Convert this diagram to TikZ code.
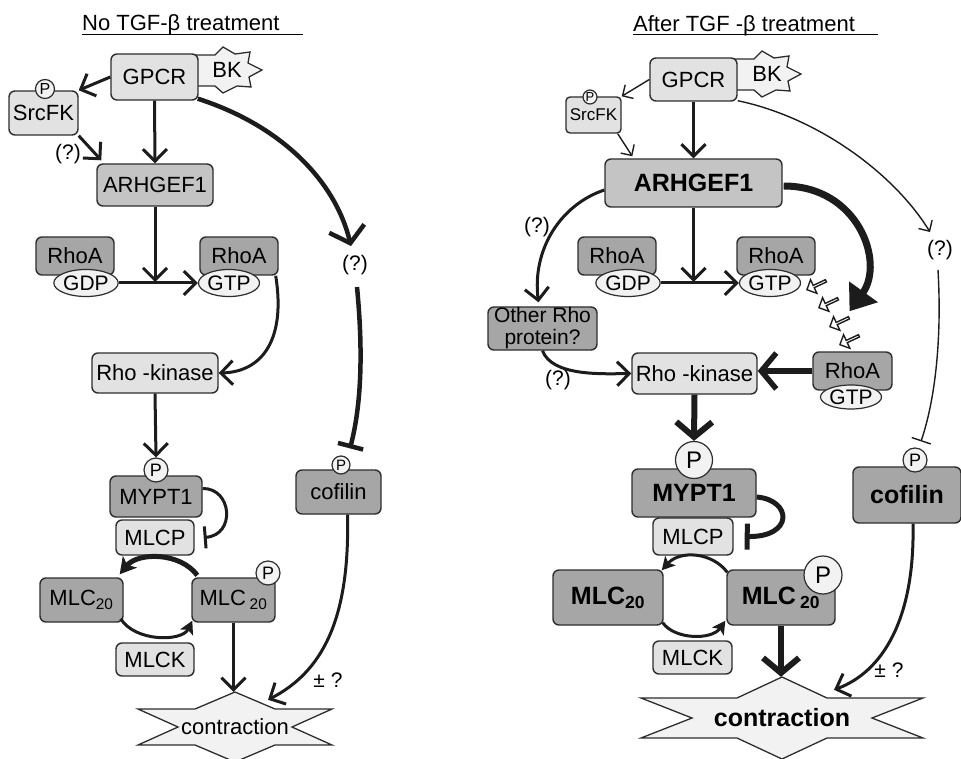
\documentclass[tikz,border=0pt]{standalone}
\usepackage{fontspec}
\setmainfont{Liberation Sans}
\usepackage{tikz}
\usetikzlibrary{positioning,arrows.meta,shapes.geometric,shapes.arrows,calc}
\definecolor{BoxLight}{RGB}{226,226,226}
\definecolor{BoxMid}{RGB}{196,196,196}
\definecolor{BoxDark}{RGB}{166,166,166}
\definecolor{TagFill}{RGB}{242,242,242}
\definecolor{LineDark}{RGB}{28,28,28}
\definecolor{BoxBorder}{RGB}{45,45,45}
\tikzset{
  % Protein boxes
  pbox/.style={rectangle, rounded corners=6pt, draw=BoxBorder, line width=1.4pt,
    inner sep=0pt, font=\fontsize{22}{24}\selectfont},
  lbox/.style={pbox, fill=BoxLight},
  mbox/.style={pbox, fill=BoxMid},
  dbox/.style={pbox, fill=BoxDark},
  % Bold boxes (after treatment)
  bbox/.style={dbox, font=\fontsize{25}{27}\selectfont\bfseries},
  % GDP / GTP tags
  nuc/.style={ellipse, draw=BoxBorder, fill=TagFill, line width=1.2pt,
    minimum width=56pt, minimum height=27pt, inner sep=0pt,
    font=\fontsize{21}{22}\selectfont},
  % Phosphate tags
  phos/.style={circle, draw=BoxBorder, fill=TagFill, line width=1.2pt, inner sep=0pt},
  % Burst outlines (BK, contraction)
  burst/.style={draw=BoxBorder, fill=TagFill, line width=1.3pt, line join=miter},
  % Plain labels
  lbl/.style={inner sep=0pt, font=\fontsize{21}{22}\selectfont},
  ttl/.style={inner sep=0pt, font=\fontsize{22}{24}\selectfont},
  % Connectors
  act/.style={draw=LineDark, line width=3pt, -{Straight Barb[length=12pt,width=24pt]}},
  tact/.style={draw=LineDark, line width=1.4pt, -{Straight Barb[length=8pt,width=16pt]}},
  hact/.style={draw=LineDark, line width=5.5pt, -{Straight Barb[length=15pt,width=36pt]}},
  bigact/.style={draw=LineDark, line width=7pt, -{Triangle[length=24pt,width=34pt]}},
  cyc/.style={draw=LineDark, line width=3pt, -{Stealth[length=13pt,width=14pt,inset=3pt]}},
  hcyc/.style={draw=LineDark, line width=5pt, -{Stealth[length=16pt,width=18pt,inset=4pt]}},
  inh/.style={draw=LineDark, line width=3pt, -{Bar[width=22pt]}},
  hinh/.style={draw=LineDark, line width=4.5pt, -{Bar[width=26pt]}},
  tinh/.style={draw=LineDark, line width=1.4pt, -{Bar[width=20pt]}},
  % Small hollow arrows (RhoA-GTP moving)
  hollow/.style={single arrow, draw=LineDark, fill=white, line width=1.4pt,
    minimum height=21pt, minimum width=15pt, single arrow head extend=3.5pt,
    inner sep=0pt, rotate=205}
}
\begin{document}
\begin{tikzpicture}[x=1pt, y=-1pt]
  \useasboundingbox (0,0) rectangle (961,759);

  % ===== No TGF-beta treatment =====
  \node[ttl, anchor=base west] (ttlA) at (82,31) {No TGF-β treatment};
  \draw[line width=1.2pt] ($(ttlA.base west)+(0,3.5)$) -- ++(221,0);

  % BK burst
  \coordinate (bkA) at (229,69);
  \draw[burst, shift={(bkA)}] (-34,-14) -- (-14,-14) -- (-6,-22) -- (6,-15) -- (21,-17)
    -- (19,-6) -- (33,1) -- (20,8) -- (22,18) -- (8,17) -- (-6,24) -- (-14,17)
    -- (-34,17) -- cycle;
  \node[ttl] (bkTxtA) at ($(bkA)+(-2,1)$) {BK};

  \node[lbox, minimum width=87pt, minimum height=46pt] (gpcrA) at (154.5,77) {GPCR};
  \node[lbox, minimum width=69pt, minimum height=44pt] (srcA) at (43.5,113) {SrcFK};
  \node[phos, minimum size=19pt, font=\fontsize{16}{16}\selectfont] (pSrcA) at (45,89) {P};
  \node[mbox, minimum width=116pt, minimum height=42pt] (arhA) at (155,185) {ARHGEF1};
  \node[dbox, minimum width=78pt, minimum height=38pt] (rhoA1) at (75,256) {RhoA};
  \node[nuc] (gdpA) at (86,283) {GDP};
  \node[dbox, minimum width=78pt, minimum height=38pt] (rhoA2) at (239,256) {RhoA};
  \node[nuc] (gtpA) at (229,283) {GTP};
  \node[lbox, minimum width=126pt, minimum height=40pt] (rockA) at (155,373) {Rho -kinase};
  \node[dbox, minimum width=92pt, minimum height=41pt] (myptA) at (156,496.5) {MYPT1};
  \node[phos, minimum size=24pt, font=\fontsize{18}{18}\selectfont] (pMyptA) at (156,470) {P};
  \node[lbox, minimum width=78pt, minimum height=35pt] (mlcpA) at (155,537.5) {MLCP};
  \node[dbox, minimum width=83pt, minimum height=44pt] (mlcA1) at (81.5,600) {MLC\textsubscript{20}};
  \node[dbox, minimum width=83pt, minimum height=44pt] (mlcA2) at (233.5,600) {MLC\,\textsubscript{20}};
  \node[phos, minimum size=24pt, font=\fontsize{18}{18}\selectfont] (pMlcA) at (268,573) {P};
  \node[lbox, minimum width=78pt, minimum height=33pt] (mlckA) at (155,659.5) {MLCK};
  \node[dbox, minimum width=85pt, minimum height=44pt] (cofA) at (338.5,492) {cofilin};
  \node[phos, minimum size=18pt, font=\fontsize{15}{15}\selectfont] (pCofA) at (341,465) {P};

  % contraction burst
  \coordinate (conA) at (235,727);
  \draw[burst, shift={(conA)}] (0,-35) -- (40,-18) -- (97,-18) -- (57,0) -- (97,18)
    -- (40,18) -- (0,35) -- (-40,18) -- (-97,18) -- (-57,0) -- (-97,-18) -- (-40,-18) -- cycle;
  \node[ttl, minimum height=70pt] (contrA) at (conA) {contraction};

  \node[lbl] (qSrcA) at (68,154) {(?)};
  \node[lbl] (qCofA) at (355,265) {(?)};
  \node[lbl] (pmA) at (328,680) {± ?};

  \draw[act] (gpcrA.west) -- (srcA.north east);
  \draw[act] (srcA.south east) -- ($(arhA.north west)+(5,-3)$);
  \draw[act] (gpcrA.south) -- (arhA.north);
  \draw[hact, line width=4.5pt] ($(gpcrA.south east)+(-1,-2)$) .. controls (280,125) and (335,180)
    .. ($(qCofA.north)+(-4,-9)$);
  \draw[hinh] ($(qCofA.south)+(2,12)$) .. controls (364,360) and (360,410) .. ($(pCofA.north)+(9,-7)$);
  \draw[act, shorten >=1pt] (arhA.south) -- (arhA.south |- gdpA.center);
  \draw[act] (gdpA.east) -- (gtpA.west);
  \draw[act] ($(rhoA2.south east)+(-3,0)$) .. controls (286,340) and (262,372) .. (rockA.east);
  \draw[act] (rockA.south) -- (pMyptA.north);
  \draw[inh] ($(myptA.east)+(0,-8)$) .. controls (232,488) and (236,535) .. ($(mlcpA.east)+(9,0)$);
  \draw[hcyc] ($(mlcA2.north west)+(6,-2)$) .. controls (180,552) and (138,552) .. ($(mlcA1.north east)+(-4,-3)$);
  \draw[cyc] ($(mlcA1.south east)+(-3,-4)$) .. controls (135,642) and (182,642) .. ($(mlcA2.south west)+(1,-2)$);
  \draw[act] (mlcA2.south) -- (mlcA2.south |- contrA.north);
  \draw[act] ($(cofA.south)+(9,0)$) .. controls (350,620) and (322,672) .. ($(contrA.north)+(33,8)$);

  % ===== After TGF-beta treatment =====
  \node[ttl, anchor=base west] (ttlB) at (633,31.5) {After TGF -β treatment};
  \draw[line width=1.2pt] ($(ttlB.base west)+(0,3)$) -- ++(245,0);

  \coordinate (bkB) at (768,73);
  \draw[burst, shift={(bkB)}] (-34,-14) -- (-14,-14) -- (-6,-22) -- (6,-15) -- (21,-17)
    -- (19,-6) -- (33,1) -- (20,8) -- (22,18) -- (8,17) -- (-6,24) -- (-14,17)
    -- (-34,17) -- cycle;
  \node[ttl] (bkTxtB) at ($(bkB)+(-1,1)$) {BK};

  \node[lbox, minimum width=87pt, minimum height=43pt] (gpcrB) at (693.5,79.5) {GPCR};
  \node[lbox, rounded corners=4pt, minimum width=55pt, minimum height=36pt,
    font=\fontsize{17}{18}\selectfont] (srcB) at (593.5,115) {SrcFK};
  \node[phos, minimum size=14pt, font=\fontsize{13}{13}\selectfont] (pSrcB) at (590,97) {P};
  \node[mbox, minimum width=177pt, minimum height=48pt,
    font=\fontsize{25}{27}\selectfont\bfseries] (arhB) at (693.5,183) {ARHGEF1};
  \node[dbox, minimum width=78pt, minimum height=38pt] (rhoB1) at (617,256) {RhoA};
  \node[nuc] (gdpB) at (628,283) {GDP};
  \node[dbox, minimum width=78pt, minimum height=38pt] (rhoB2) at (776,256) {RhoA};
  \node[nuc] (gtpB) at (770,283) {GTP};
  \node[dbox, minimum width=109pt, minimum height=43pt, align=center,
    font=\fontsize{21}{22}\selectfont] (otherB) at (542.5,328.5) {Other Rho\\protein?};
  \node[lbox, minimum width=125pt, minimum height=41pt] (rockB) at (694.5,373.5) {Rho -kinase};
  \node[dbox, minimum width=79pt, minimum height=38pt] (rhoB3) at (852.5,371) {RhoA};
  \node[nuc, minimum width=57pt, minimum height=24pt] (gtpB3) at (851,397) {GTP};
  \node[bbox, minimum width=124pt, minimum height=48pt] (myptB) at (694,493) {MYPT1};
  \node[phos, minimum size=37pt, font=\fontsize{24}{24}\selectfont] (pMyptB) at (694,460) {P};
  \node[lbox, minimum width=80pt, minimum height=37pt] (mlcpB) at (693,536.5) {MLCP};
  \node[bbox, minimum width=110pt, minimum height=55pt] (mlcB1) at (608,597.5) {MLC\textsubscript{20}};
  \node[bbox, minimum width=108pt, minimum height=55pt] (mlcB2) at (781,597.5) {MLC\,\textsubscript{20}};
  \node[phos, minimum size=38pt, font=\fontsize{24}{24}\selectfont] (pMlcB) at (823,575) {P};
  \node[lbox, minimum width=79pt, minimum height=33pt] (mlckB) at (692.5,657.5) {MLCK};
  \node[bbox, minimum width=108pt, minimum height=56pt] (cofB) at (907,495) {cofilin};
  \node[phos, minimum size=24pt, font=\fontsize{18}{18}\selectfont] (pCofB) at (915,460) {P};

  \coordinate (conB) at (782,718);
  \draw[burst, shift={(conB)}] (0,-41) -- (45,-20) -- (141,-20) -- (90,0) -- (141,20)
    -- (45,20) -- (0,41) -- (-45,20) -- (-141,20) -- (-90,0) -- (-141,-20) -- (-45,-20) -- cycle;
  \node[minimum height=82pt, inner sep=0pt, font=\fontsize{25}{27}\selectfont\bfseries]
    (contrB) at (conB) {contraction};

  \node[lbl] (qOtherB) at (537,227) {(?)};
  \node[lbl] (qRockB) at (558,380) {(?)};
  \node[lbl] (qCofB) at (940,250) {(?)};
  \node[lbl] (pmB) at (889,670) {± ?};

  % RhoA-GTP on the move
  \foreach \i/\x/\y in {1/817/285, 2/829/303, 3/840/322, 4/850/340}
    \node[hollow] (mv\i) at (\x,\y) {};

  \draw[tact] (gpcrB.west) -- (srcB.north east);
  \draw[tact] ($(srcB.south east)+(-4,0)$) -- ($(arhB.north west)+(28,-2)$);
  \draw[act] (gpcrB.south) -- (arhB.north);
  \draw[tact] ($(gpcrB.south east)+(0,-1)$) .. controls (820,118) and (895,175) .. ($(qCofB.north)+(-10,-8)$);
  \draw[tinh] ($(qCofB.south)+(-2,10)$) .. controls (942,340) and (935,400) .. ($(pCofB.north)+(6,-6)$);
  \draw[act] ($(arhB.west)+(0,7)$) .. controls (560,205) and (532,250) .. ($(otherB.north)+(-4,-4)$);
  \draw[bigact] ($(arhB.east)+(1,3)$) .. controls (858,186) and (885,262) .. ($(rhoB3.north)+(-3,-40)$);
  \draw[act, shorten >=1pt] (arhB.south) -- (arhB.south |- gdpB.center);
  \draw[act] (gdpB.east) -- (gtpB.west);
  \draw[act] (otherB.south) .. controls (552,376) and (600,374) .. (rockB.west);
  \draw[hact] (rhoB3.west) -- (rhoB3.west -| rockB.east);
  \draw[hact, line width=6pt] (rockB.south) -- (pMyptB.north);
  \draw[hinh, line width=5pt] ($(myptB.east)+(0,4)$) .. controls (792,500) and (794,537) .. ($(mlcpB.east)+(11,0)$);
  \draw[cyc] ($(mlcB2.north west)+(1,3)$) .. controls (712,552) and (680,550) .. ($(mlcB1.north east)+(-2,1)$);
  \draw[cyc] ($(mlcB1.south east)+(-1,-3)$) .. controls (675,640) and (712,640) .. ($(mlcB2.south west)+(-1,-5)$);
  \draw[hact, line width=6pt] (mlcB2.south) -- (mlcB2.south |- contrB.north);
  \draw[act] ($(cofB.south)+(6,0)$) .. controls (915,620) and (882,672) .. ($(contrB.north)+(52,13)$);
\end{tikzpicture}
\end{document}
